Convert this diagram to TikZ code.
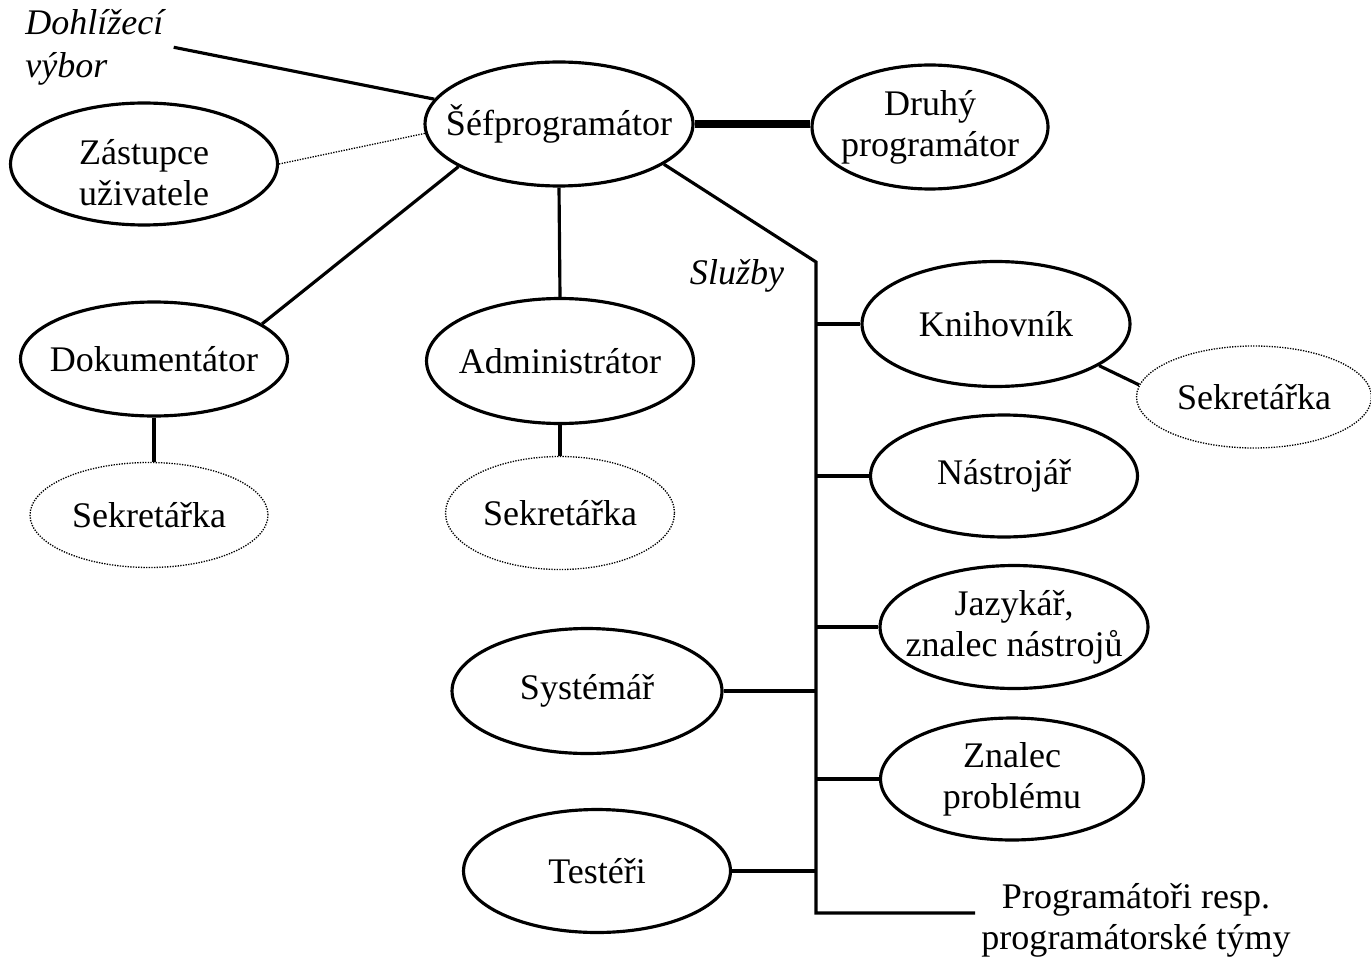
\documentclass[tikz,border=0pt]{standalone}
\usepackage{fontspec}
\setmainfont{Liberation Serif}
\usetikzlibrary{shapes.geometric}
\newcommand{\ctx}[1]{\makebox[0pt]{#1}}
\newcommand{\lowctx}[1]{\makebox[0pt]{\raisebox{-0.18cm}[\height][\depth]{#1}}}

\begin{document}
\begin{tikzpicture}[x=0.02cm, y=-0.02cm,
    font=\fontsize{20.5}{23.2}\selectfont,
    role/.style 2 args={draw, ellipse, line width=1.8pt, inner sep=0pt, align=center,
      minimum width=#1, minimum height=#2},
    aide/.style 2 args={role={#1}{#2}, line width=0.75pt, dash pattern=on 0.75pt off 0.75pt},
    link/.style={line width=1.8pt},
    thinlink/.style={line width=0.75pt, dash pattern=on 0.75pt off 0.75pt},
    note/.style={font=\fontsize{20.5}{24.5}\selectfont\itshape, align=left, inner ysep=0pt}]
      \useasboundingbox (0,0) rectangle (1371,959);

      \node[note, inner xsep=0.2cm, anchor=north west] (dv) at (15,9) {Dohlížecí\\výbor};
      \node[note, inner sep=0pt] (sluzby) at (737,276) {Služby};

      \node[role={5.36cm}{2.48cm}] (sef) at (559,124) {\ctx{Šéfprogramátor}};
      \node[role={4.72cm}{2.48cm}] (druhy) at (930,127) {\ctx{Druhý}\\\ctx{programátor}};
      \node[role={5.34cm}{2.44cm}] (zast) at (144,164) {\lowctx{Zástupce}\\\lowctx{uživatele}};
      \node[role={5.34cm}{2.28cm}] (dok) at (154,359) {\ctx{Dokumentátor}};
      \node[aide={4.76cm}{2.1cm}] (sekd) at (149,515) {\ctx{Sekretářka}};
      \node[role={5.34cm}{2.5cm}] (adm) at (560,361) {\ctx{Administrátor}};
      \node[aide={4.58cm}{2.26cm}] (seka) at (560,513) {\ctx{Sekretářka}};

      \node[role={5.36cm}{2.5cm}] (kni) at (996,324) {\ctx{Knihovník}};
      \node[aide={4.7cm}{2.04cm}] (sekk) at (1254,397) {\ctx{Sekretářka}};
      \node[role={5.34cm}{2.44cm}] (nas) at (1004,476) {\ctx{Nástrojář}};
      \node[role={5.36cm}{2.46cm}] (jaz) at (1014,627) {\ctx{Jazykář,}\\\ctx{znalec nástrojů}};
      \node[role={5.26cm}{2.44cm}] (znal) at (1012,779) {\ctx{Znalec}\\\ctx{problému}};
      \node[role={5.4cm}{2.5cm}] (sys) at (587,691) {\ctx{Systémář}};
      \node[role={5.34cm}{2.46cm}] (test) at (597,871) {\ctx{Testéři}};
      \node[inner xsep=0.12cm, align=center] (prog) at (1136,920) {Programátoři resp.\\programátorské týmy};

      \coordinate (bustop) at (816,262); \coordinate (busend) at (816,913);

      \draw[link] (dv.east) -- (sef); \draw[thinlink] (zast.east) -- (sef.184);
      \draw[line width=4pt] (sef.east) -- (sef.east -| druhy.west);
      \draw[link] (sef.203) -- (dok.18); \draw[link] (dok.south) -- (dok.south |- sekd.north);
      \draw[link] (sef.south) -- (adm.north); \draw[link] (adm.south) -- (seka.north);
      \draw[link] (sef.339) -- (bustop) -- (busend) -- (busend -| prog.west);
      \draw[link] (kni.west -| bustop) -- (kni.west); \draw[link] (kni.338) -- (sekk.174);
      \draw[link] (nas.west -| bustop) -- (nas.west); \draw[link] (jaz.west -| bustop) -- (jaz.west);
      \draw[link] (znal.west -| bustop) -- (znal.west);
      \draw[link] (sys.east) -- (sys.east -| bustop); \draw[link] (test.east) -- (test.east -| bustop);
    \end{tikzpicture}
\end{document}
